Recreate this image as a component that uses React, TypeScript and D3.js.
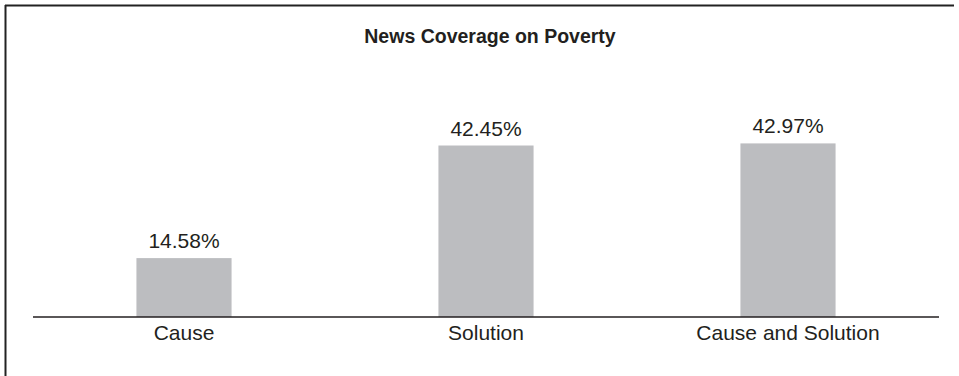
import React from "react";
import * as d3 from "d3";

const categories = ["Cause", "Solution", "Cause and Solution"];
const values = [14.58, 42.45, 42.97];
const valueLabels = ["14.58%", "42.45%", "42.97%"];
const title = "News Coverage on Poverty";

const W = 959;
const H = 376;

export default function App() {
  const x = d3.scaleBand<string>().domain(categories).range([33, 939]).padding(0);
  const y = d3.scaleLinear().domain([0, 50]).range([317, 317 - 50 * 4.04]);
  const barW = x.bandwidth() * 0.315;
  const font = "'Liberation Sans', Arial, Helvetica, sans-serif";
  return (
    <svg width={W} height={H} style={{ position: "absolute", left: 0, top: 0 }} fontFamily={font}>
      <rect x={0} y={0} width={W} height={H} fill="#fff" />
      <line x1={5} y1={5.5} x2={954} y2={5.5} stroke="#222" strokeWidth={2} />
      <line x1={5.5} y1={5} x2={5.5} y2={H} stroke="#222" strokeWidth={2} />
      <text x={490} y={43} textAnchor="middle" fontSize={19.5} fontWeight="bold" fill="#231f20">
        {title}
      </text>
      {categories.map((c, i) => {
        const cx = (x(c) as number) + x.bandwidth() / 2;
        return (
          <g key={c}>
            <rect x={cx - barW / 2} y={y(values[i])} width={barW} height={y(0) - y(values[i])} fill="#bcbdc0" />
            <text x={cx} y={y(values[i]) - 10} textAnchor="middle" fontSize={21} fill="#231f20">
              {valueLabels[i]}
            </text>
            <text x={cx} y={340} textAnchor="middle" fontSize={21} fill="#231f20">
              {c}
            </text>
          </g>
        );
      })}
      <line x1={33} x2={939} y1={317} y2={317} stroke="#231f20" strokeWidth={1.5} />
    </svg>
  );
}
